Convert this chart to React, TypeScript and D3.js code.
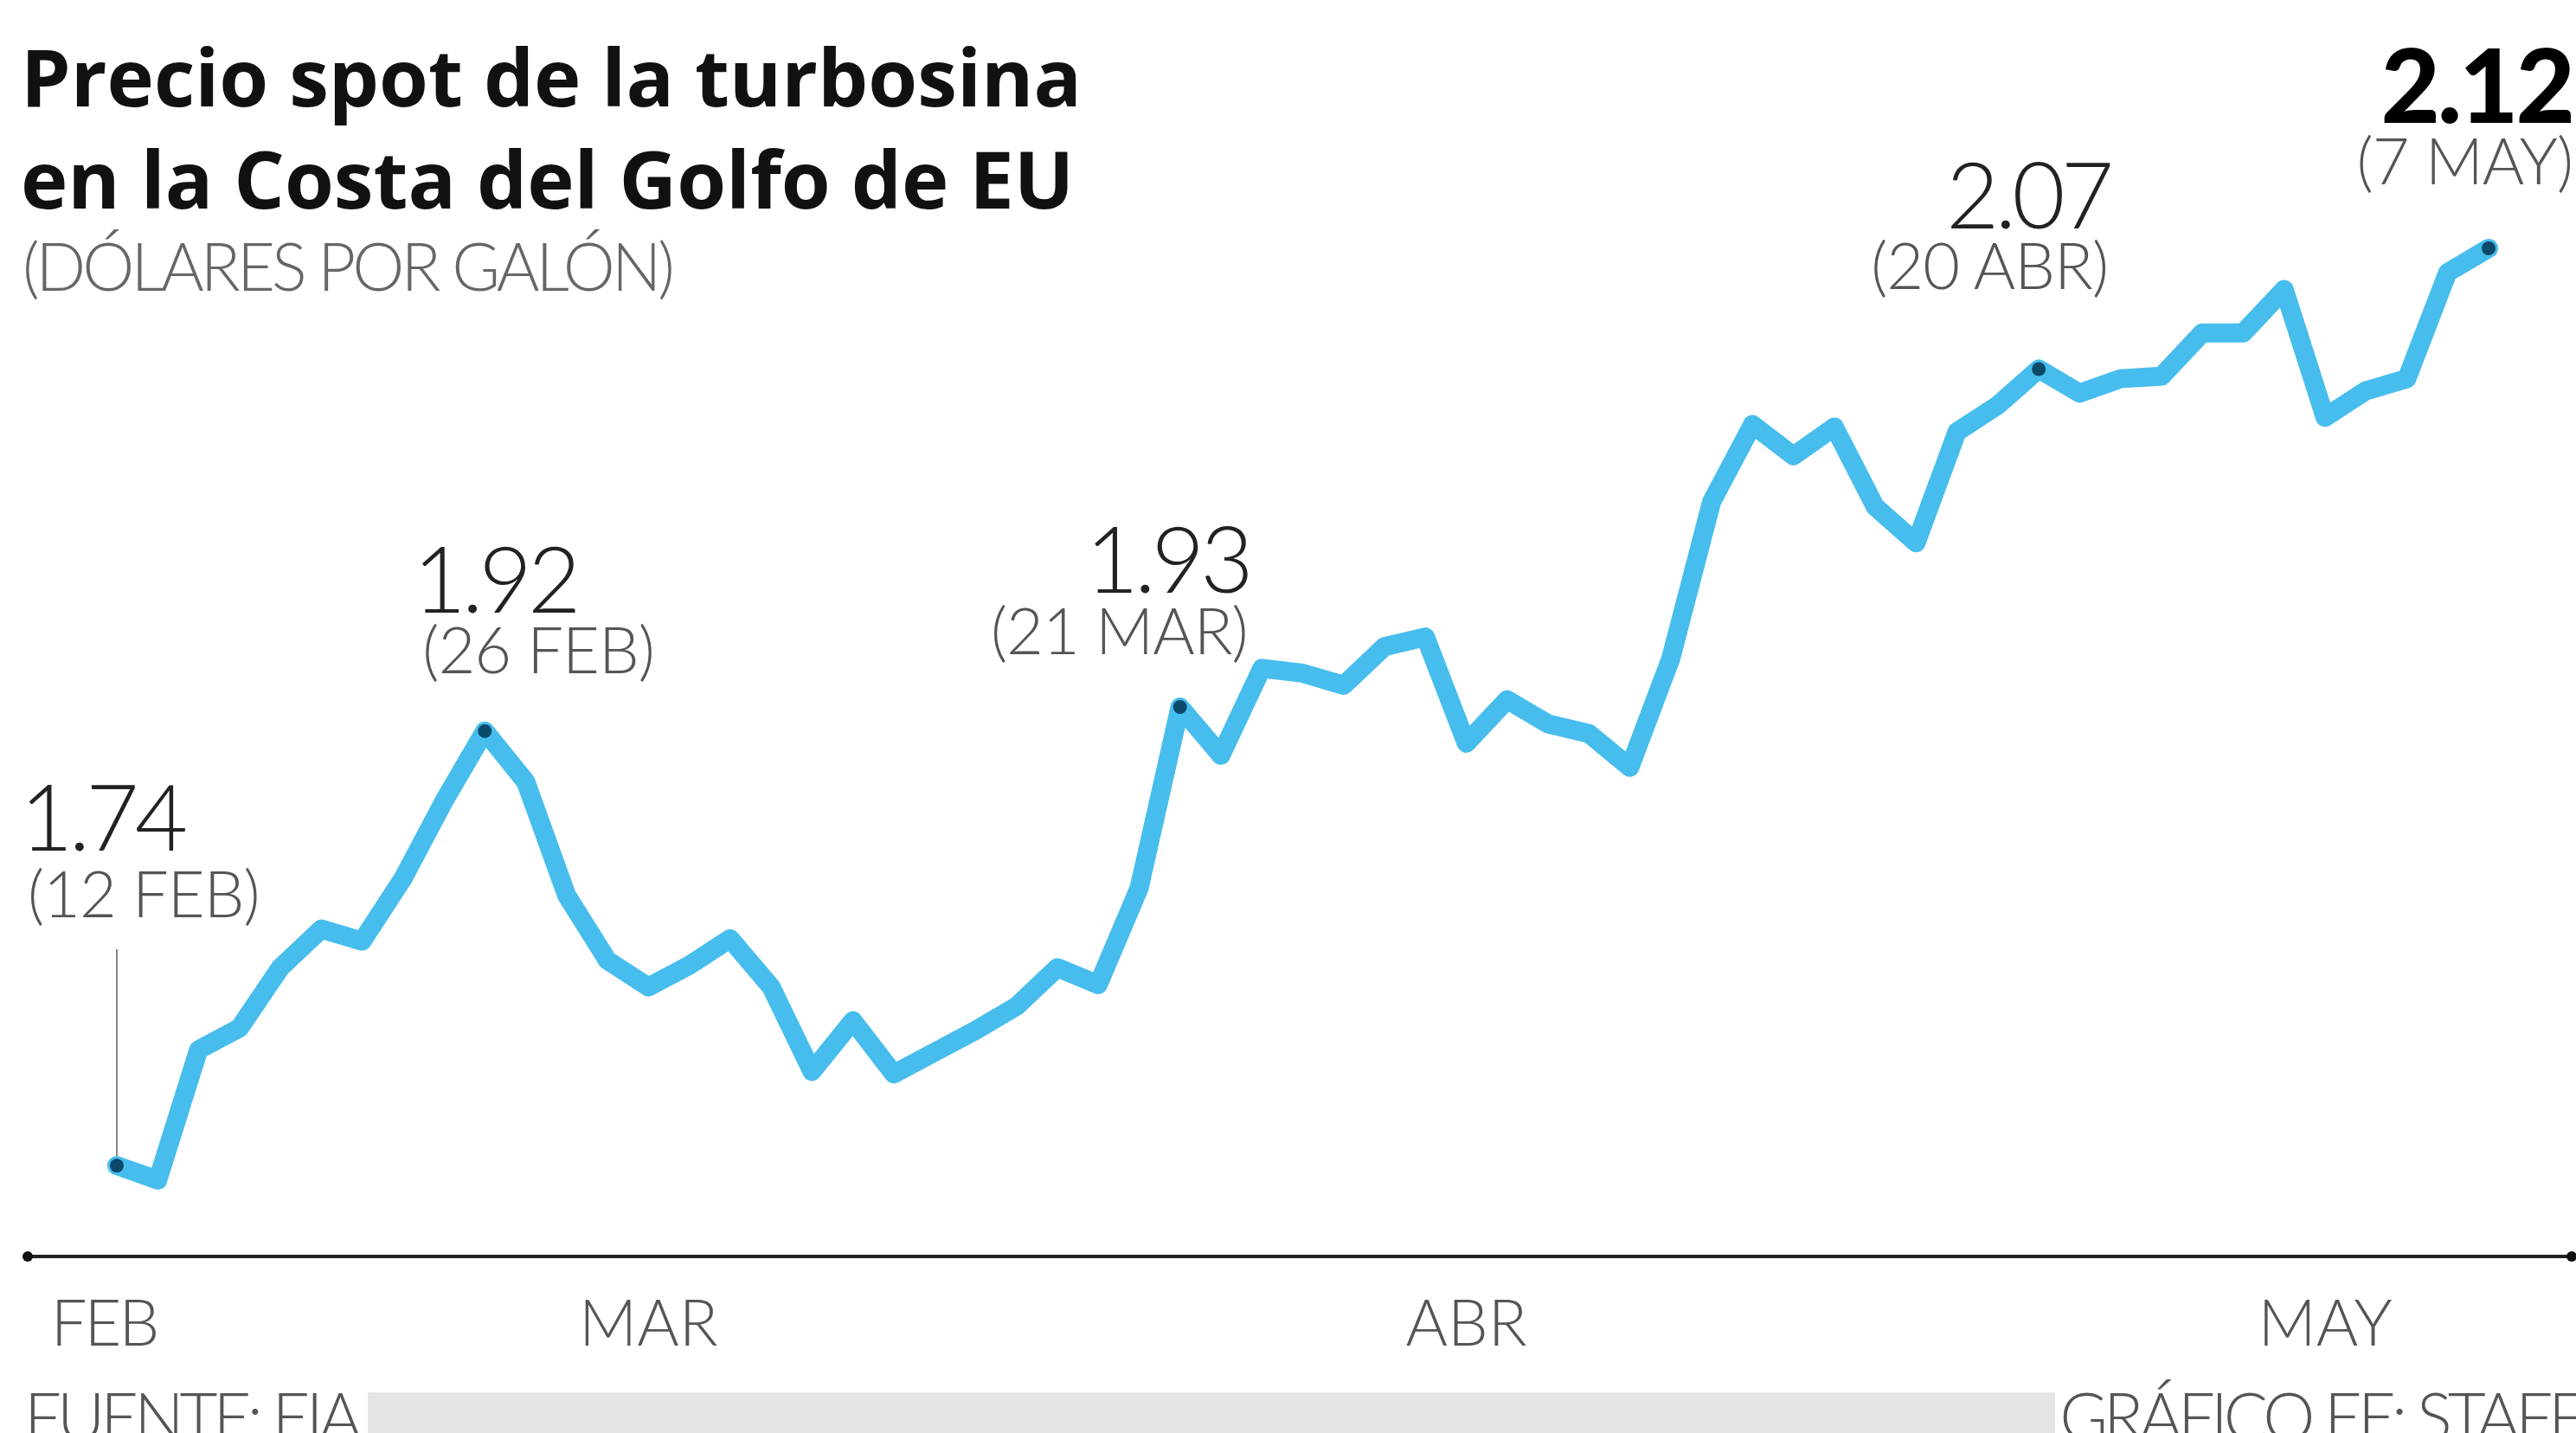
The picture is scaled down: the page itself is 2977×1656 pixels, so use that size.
import React from "react";
import * as d3 from "d3";

const W = 2977;
const H = 1656;

const dates: string[] = [
  "12 FEB", "13 FEB", "14 FEB", "15 FEB", "16 FEB", "20 FEB", "21 FEB", "22 FEB", "23 FEB", "26 FEB", "27 FEB", "28 FEB",
  "1 MAR", "2 MAR", "5 MAR", "6 MAR", "7 MAR", "8 MAR", "9 MAR", "12 MAR", "13 MAR", "14 MAR", "15 MAR", "16 MAR",
  "19 MAR", "20 MAR", "21 MAR", "22 MAR", "23 MAR", "26 MAR", "27 MAR", "28 MAR", "29 MAR",
  "2 ABR", "3 ABR", "4 ABR", "5 ABR", "6 ABR", "9 ABR", "10 ABR", "11 ABR", "12 ABR", "13 ABR", "16 ABR", "17 ABR",
  "18 ABR", "19 ABR", "20 ABR", "23 ABR", "24 ABR", "25 ABR", "26 ABR", "27 ABR", "30 ABR",
  "1 MAY", "2 MAY", "3 MAY", "4 MAY", "7 MAY",
];

const prices: number[] = [
  1.74, 1.734, 1.788, 1.797, 1.822, 1.838, 1.833, 1.859, 1.891, 1.92, 1.899, 1.852,
  1.825, 1.814, 1.823, 1.834, 1.814, 1.779, 1.8, 1.778, 1.787, 1.796, 1.806, 1.822,
  1.815, 1.855, 1.93, 1.91, 1.946, 1.944, 1.939, 1.955, 1.959,
  1.915, 1.933, 1.923, 1.919, 1.905, 1.95, 2.015, 2.047, 2.034, 2.046, 2.013, 1.998,
  2.044, 2.055, 2.07, 2.06, 2.066, 2.067, 2.085, 2.085, 2.103,
  2.05, 2.061, 2.066, 2.11, 2.12,
];

const monthLabels: string[] = ["FEB", "MAR", "ABR", "MAY"];
const monthAnchors: string[] = ["12 FEB", "2 MAR", "2 ABR", "1 MAY"];

const highlightDates: string[] = ["12 FEB", "26 FEB", "21 MAR", "20 ABR", "7 MAY"];
const highlightValues: string[] = ["1.74", "1.92", "1.93", "2.07", "2.12"];
const highlightDateLabels: string[] = ["(12 FEB)", "(26 FEB)", "(21 MAR)", "(20 ABR)", "(7 MAY)"];

const titleLines: string[] = ["Precio spot de la turbosina", "en la Costa del Golfo de EU"];
const subtitle = "(DÓLARES POR GALÓN)";
const sourceText = "FUENTE: EIA";
const creditText = "GRÁFICO EE: STAFF";

const FONT = "Lato, 'Open Sans', sans-serif";
const TITLE_FONT = "'Open Sans', 'Noto Sans', sans-serif";

export default function App() {
  const x = d3.scalePoint<string>().domain(dates).range([135, 2876]);
  const y = d3.scaleLinear().domain([1.74, 2.12]).range([1347, 287]);

  const data = dates.map((d, i) => ({ d, v: prices[i] }));
  const line = d3
    .line<{ d: string; v: number }>()
    .x((p) => x(p.d) as number)
    .y((p) => y(p.v))
    .curve(d3.curveLinear);

  const pt = (d: string) => {
    const i = dates.indexOf(d);
    return { px: x(d) as number, py: y(prices[i]) };
  };

  const annLayout: { anchor: "start" | "end"; dxV: number; dxD: number; dyV: number; dyD: number; bold: boolean }[] = [
    { anchor: "start", dxV: -112, dxD: -103, dyV: -364, dyD: -287, bold: false },
    { anchor: "start", dxV: -83, dxD: -72, dyV: -137, dyD: -67, bold: false },
    { anchor: "end", dxV: 80, dxD: 78, dyV: -132, dyD: -61, bold: false },
    { anchor: "end", dxV: 82, dxD: 80, dyV: -162, dyD: -92, bold: false },
    { anchor: "end", dxV: 97, dxD: 97, dyV: -145, dyD: -74, bold: true },
  ];

  const axisY = 1452;
  const p0 = pt(highlightDates[0]);

  return (
    <svg
      width={W}
      height={H}
      style={{ position: "absolute", left: 0, top: 0, background: "#ffffff" }}
      fontFamily={FONT}
    >
      <rect x={0} y={0} width={W} height={H} fill="#ffffff" />

      {titleLines.map((t, i) => (
        <text key={t} x={24} y={123 + i * 118} fontSize={92} fontWeight={700} fill="#111" fontFamily={TITLE_FONT} letterSpacing={0}>
          {t}
        </text>
      ))}
      <text x={26} y={336} fontSize={76} fontWeight={300} fill="#666" letterSpacing={-4}>
        {subtitle}
      </text>

      <line x1={p0.px} x2={p0.px} y1={1097} y2={p0.py - 10} stroke="#888" strokeWidth={2} />

      <path
        d={line(data) || ""}
        fill="none"
        stroke="#47bdee"
        strokeWidth={22}
        strokeLinejoin="round"
        strokeLinecap="round"
      />

      {highlightDates.map((d, i) => {
        const { px, py } = pt(d);
        const L = annLayout[i];
        return (
          <g key={d}>
            <circle cx={px} cy={py} r={8} fill="#0b4a6b" />
            <text
              x={px + L.dxV}
              y={py + L.dyV}
              textAnchor={L.anchor}
              fontSize={L.bold ? 118 : 106}
              fontWeight={L.bold ? 900 : 300}
              fill={L.bold ? "#000" : "#222"}
              letterSpacing={L.bold ? -3 : -5}
            >
              {highlightValues[i]}
            </text>
            <text
              x={px + L.dxD}
              y={py + L.dyD}
              textAnchor={L.anchor}
              fontSize={74}
              fontWeight={300}
              fill="#555"
              letterSpacing={-1}
            >
              {highlightDateLabels[i]}
            </text>
          </g>
        );
      })}

      <line x1={32} x2={2972} y1={axisY} y2={axisY} stroke="#222" strokeWidth={4} />
      <circle cx={32} cy={axisY} r={6} fill="#111" />
      <circle cx={2972} cy={axisY} r={6} fill="#111" />
      {monthLabels.map((m, i) => (
        <text
          key={m}
          x={(x(monthAnchors[i]) as number) + (i === 0 ? -15 : 0)}
          y={1555}
          textAnchor="middle"
          fontSize={74}
          fontWeight={300}
          fill="#555"
          letterSpacing={i === 0 ? -3 : 0}
        >
          {m}
        </text>
      ))}

      <rect x={425} y={1609} width={1950} height={H - 1609} fill="#e5e5e5" />
      <text x={28} y={1665} fontSize={76} fontWeight={300} fill="#555" letterSpacing={-5}>
        {sourceText}
      </text>
      <text x={W + 6} y={1665} textAnchor="end" fontSize={76} fontWeight={300} fill="#555" letterSpacing={-5}>
        {creditText}
      </text>
    </svg>
  );
}
